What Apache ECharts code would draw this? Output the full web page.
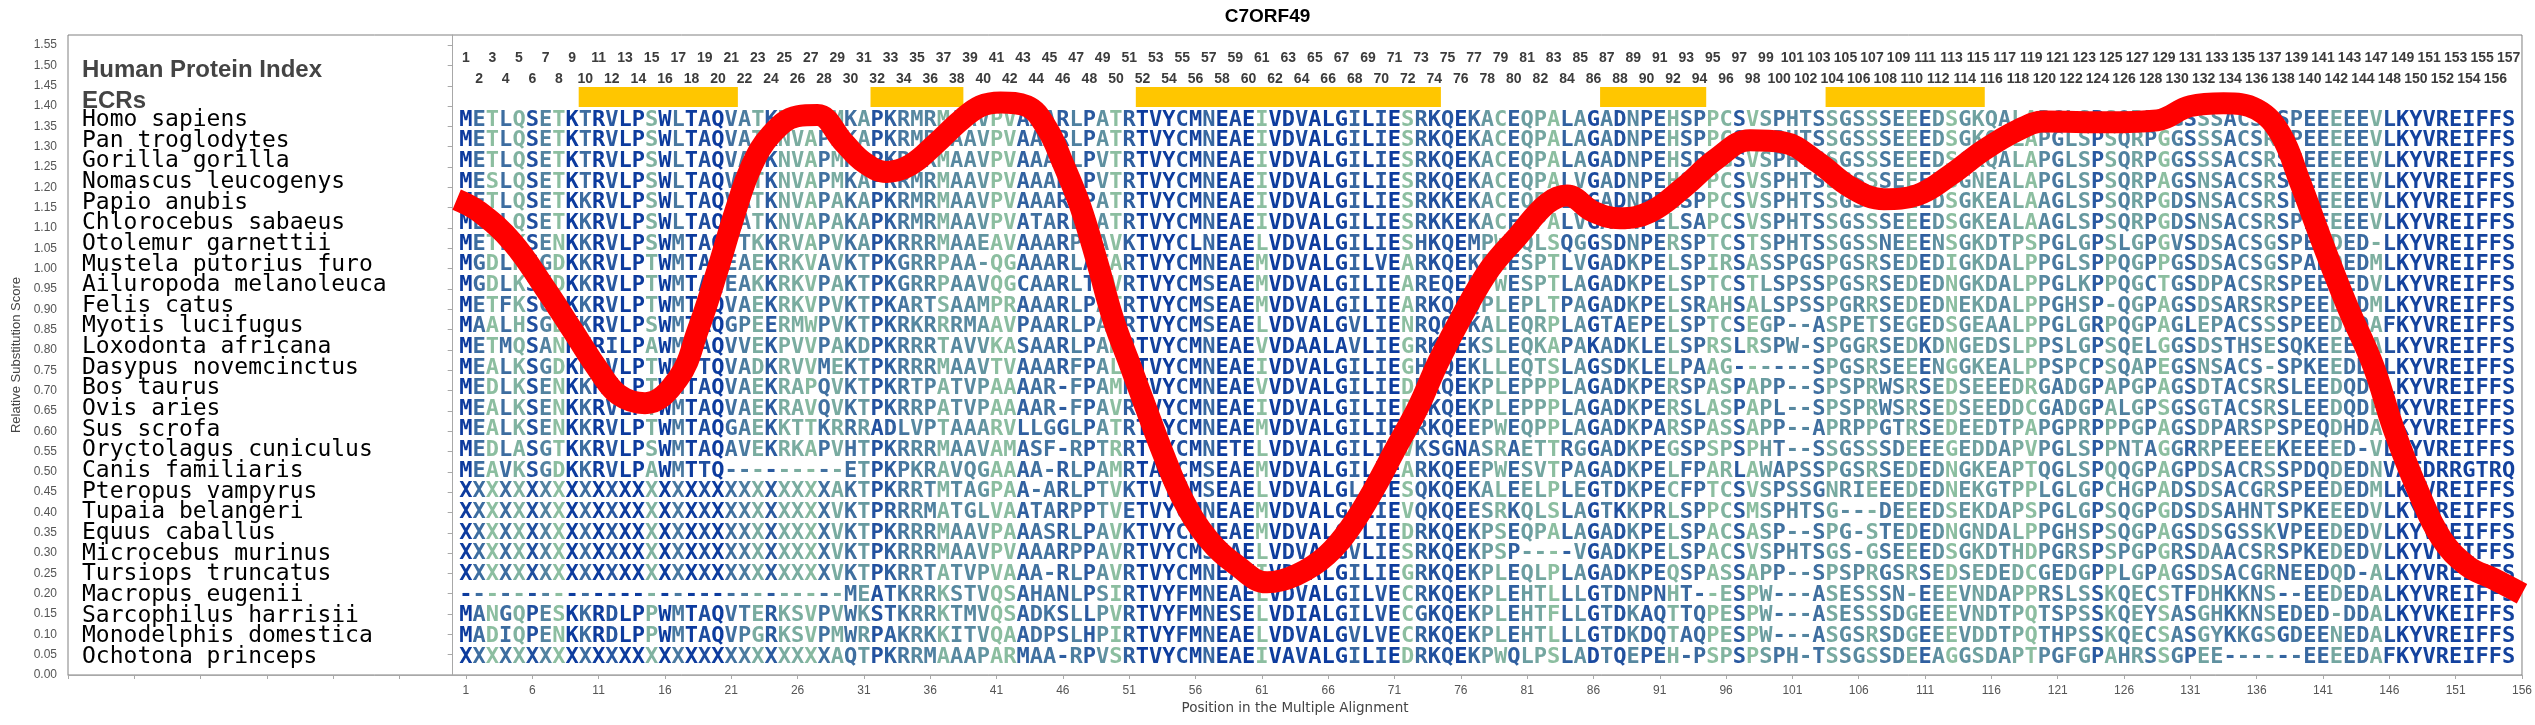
<!DOCTYPE html>
<html>
<head>
<meta charset="utf-8">
<script src="https://cdn.jsdelivr.net/npm/echarts/dist/echarts.min.js"></script>
<style>html,body{margin:0;padding:0;background:#fff}#c{width:2535px;height:725px}</style>
</head>
<body>
<div id="c"></div>
<script>
// ---------------- DATA ----------------
const species = ['Homo sapiens','Pan troglodytes','Gorilla gorilla','Nomascus leucogenys','Papio anubis','Chlorocebus sabaeus','Otolemur garnettii','Mustela putorius furo','Ailuropoda melanoleuca','Felis catus','Myotis lucifugus','Loxodonta africana','Dasypus novemcinctus','Bos taurus','Ovis aries','Sus scrofa','Oryctolagus cuniculus','Canis familiaris','Pteropus vampyrus','Tupaia belangeri','Equus caballus','Microcebus murinus','Tursiops truncatus','Macropus eugenii','Sarcophilus harrisii','Monodelphis domestica','Ochotona princeps'];

const sequenceParts = [
['METLQSETKTRV','LPSWLTAQVATKNVAPMKAPKRMRM','AAVPVAAARLPATRTVYCMNEAEIV','DVALGILIESRKQEKACEQPAL','AGADNPEHSPPCSVSPHTSSGSSSEEEDSGKQALAP','GLSPSQRPGGSSSACSRSPEEEEEVLKYVREIFFS'],
['METLQSETKTRV','LPSWLTAQVATKNVAPMKAPKRMRM','AAVPVAAARLPATRTVYCMNEAEIV','DVALGILIESRKQEKACEQPAL','AGADNPEHSPPCSMSPHTSSGSSSEEEDSGKQALAP','GLSPSQRPGGSSSACSRSPEEEEEVLKYVREIFFS'],
['METLQSETKTRV','LPSWLTAQVATKNVAPMKAPKRMRM','AAVPVAAARLPVTRTVYCMNEAEIV','DVALGILIESRKQEKACEQPAL','AGADNPEHSPPGSVSPHTSSGSSSEEEDSGKQALAP','GLSPSQRPGGSSSACSRSPEEEEEVLKYVREIFFS'],
['MESLQSETKTRV','LPSWLTAQVATKNVAPMKAPKRMRM','AAVPVAAARLPVTRTVYCMNEAEIV','DVALGILIESRKQEKACEQPAL','VGADNPEHSPPCSVSPHTSSGSSSEEEDSGNEALAP','GLSPSQRPAGSNSACSRSPEEEEEVLKYVREIFFS'],
['METLQSETKKRV','LPSWLTAQVATKNVAPAKAPKRMRM','AAVPVAAARPPATRTVYCMNEAEIV','DVALGILIESRKKEKACEQPAL','VGADNPELSPPCSVSPHTSSGSSSEEEDSGKEALAA','GLSPSQRPGDSNSACSRSPEEEEEVLKYVREIFFS'],
['METLQSETKKRV','LPSWLTAQVATKNVAPAKAPKRMRM','AAVPVATARLPATRTVYCMNEAEIV','DVALGILIESRKKEKACEQPAL','VGADNPELSAPCSVSPHTSSGSSSEEEDSGKEALAA','GLSPSQRPGDSNSACSRSPEEEEEVLKYVREIFFS'],
['METLKSENKKRV','LPSWMTAQVTKKRVAPVKAPKRRRM','AAEAVAAARPPAVKTVYCLNEAELV','DVALGILIESHKQEMPWKQLSQ','GGSDNPERSPTCSTSPHTSSGSSNEEENSGKDTPSP','GLGPSLGPGVSDSACSGSPEKDED-LKYVREIFFS'],
['MGDLKSGDKKRV','LPTWMTAQEAEKRKVAVKTPKGRRP','AA-QGAAARLATARTVYCMNEAEMV','DVALGILVEARKQEKPLESPTL','VGADKPELSPIRSASSPGSPGSRSEDEDIGKDALPP','GLSPPQGPPGSDSACSGSPADDEDMLKYVREIFFS'],
['MGDLKSEDKKRV','LPTWMTAQEAKKRKVPAKTPKGRRP','AAVQGCAARLTTVRTVYCMSEAEMV','DVALGILIEAREQEKPWESPTL','AGADKPELSPTCSTLSPSSPGSRSEDEDNGKDALPP','GLKPPQGCTGSDPACSRSPEEDEDVLKYVREIFFS'],
['METFKSGDKKRV','LPTWMTAQVAEKRKVPVKTPKARTS','AAMPRAAARLPATRTVYCMSEAEMV','DVALGILIEARKQEQPLEPLTP','AGADKPELSRAHSALSPSSPGRRSEDEDNEKDALPP','GHSP-QGPAGSDSARSRSPEEDEDMLKYVREIFFS'],
['MAALHSGDKKRV','LPSWMTAQGPEERMWPVKTPKRKRR','RMAAVPAARLPAVRTVYCMSEAELV','DVALGVLIENRQQEKALEQRPL','AGTAEPELSPTCSEGP--ASPETSEGEDSGEAALPP','GLGRPQGPAGLEPACSSSPEEDEDAFKYVREIFFS'],
['METMQSANKNRI','LPAWMTAQVVEKPVVPAKDPKRRRT','AVVKASAARLPAMRTVYCMNEAEVV','DAALAVLIEGRKWEKSLEQKAP','AKADKLELSPRSLRSPW-SPGGRSEDKDNGEDSLPP','SLGPSQELGGSDSTHSESQKEEEDALKYVREIFFS'],
['MEALKSGDKKRV','LPTWMTTQVADKRVVMEKTPKRRRM','AAVTVAAARFPALKTVYCMNEAEIV','DVALGILIEGHKQEKLLEQTSL','AGSDKLELPAAG------SPGSRSEEENGGKEALPP','SPCPSQAPEGSNSACS-SPKEEDDVLKYVREIFFS'],
['MEDLKSENKKRV','LPTWMTAQVAEKRAPQVKTPKRTPA','TVPAAAAR-FPAMRTVYCMNEAEVV','DVALGILIEDRKQEKPLEPPPL','AGADKPERSPASPAPP--SPSPRWSRSEDSEEEDRG','ADGPAPGPAGSDTACSRSLEEDQDELKYVREIFFS'],
['MEALKSENKKRV','LPTWMTAQVAEKRAVQVKTPKRRPA','TVPAAAAR-FPAVRTVYCMNEAEIV','DVALGILIEDRKQEKPLEPPPL','AGADKPERSLASPAPL--SPSPRWSRSEDSEEDDCG','ADGPALGPSGSGTACSRSLEEDQDELKYVREIFFS'],
['MEALKSENKKRV','LPTWMTAQGAEKKTTKRRRADLVPT','AAARVLLGGLPATRTVYCMNEAEMV','DVALGILIEGRKQEEPWEQPPL','AGADKPARSPASSAPP--APRPPGTRSEDEEDTPAP','GPRPPPGPAGSDPARSPSPEQDHDALKYVREIFFS'],
['MEDLASGTKKRV','LPSWMTAQAVEKRKAPVHTPKRRRM','AAVAMASF-RPTRRTVYCMNETELV','DVALGILIEVKSGNASRAETTR','GGADKPEGSPSPSPHT--SSGSSSDEEEGEDDAPVP','GLSPPNTAGGRRPEEEEKEEEED-VLKYVREIFFS'],
['MEAVKSGDKKRV','LPAWMTTQ---------ETPKPKRA','VQGAAAA-RLPAMRTAYCMSEAEMV','DVALGILIEARKQEEPWESVTP','AGADKPELFPARLAWAPSSPGSRSEDEDNGKEAPTQ','GLSPQQGPAGPDSACRSSPDQDEDNVAFDRRGTRQ'],
['XXXXXXXXXXXX','XXXXXXXXXXXXXXXXAKTPKRRTM','TAGPAA-ARLPTVKTVYCMSEAELV','DVALGLLIESQKQEKALEELPL','EGTDKPECFPTCSVSPSSGNRIEEEDEDNEKGTPPL','GLGPCHGPADSDSACGRSPEEDEDMLKYVREIFFS'],
['XXXXXXXXXXXX','XXXXXXXXXXXXXXXXVKTPRRRMA','TGLVAATARPPTVETVYCMNEAEMV','DVALGVLIEVQKQEESRKQLSL','AGTKKPRLSPPCSMSPHTSG---DEEEDSEKDAPSP','GLGPSQGPGDSDSAHNTSPKEEEDVLKYVREIFFS'],
['XXXXXXXXXXXX','XXXXXXXXXXXXXXXXVKTPKRRRM','AAVPAAASRLPAVKTVYCMNEAEMV','DVALGILIEDRKQEKPSEQPAL','AGADKPELSPACSASP--SPG-STEDEDNGNDALPP','GHSPSQGPAGSDSGSSKVPEEDEDVLKYVREIFFS'],
['XXXXXXXXXXXX','XXXXXXXXXXXXXXXXVKTPKRRRM','AAVPVAAARPPAVRTVYCMSEAELV','DVALGVLIESRKQEKPSP----','VGADKPELSPACSVSPHTSGS-GSEEEDSGKDTHDP','GRSPSPGPGRSDAACSRSPKEDEDVLKYVREIFFS'],
['XXXXXXXXXXXX','XXXXXXXXXXXXXXXXVKTPKRRTA','TVPVAAA-RLPAVRTVYCMNEAEIV','DVALGILIEGRKQEKPLEQLPL','AGADKPEQSPASSAPP--SPSPRGSRSEDSEDEDCG','EDGPPLGPAGSDSACGRNEEDQD-ALKYVREIFFS'],
['------------','-----------------MEATKRRK','STVQSAHANLPSIRTVYFMNEAELV','DVALGILVECRKQEKPLEHTLL','LGTDNPNHT--ESPW---ASESSSN-EEEVNDAPPR','SLSSKQECSTFDHKKNS--EEDEDALKYVREIFFS'],
['MANGQPESKKRD','LPPWMTAQVTERKSVPVWKSTKRRK','TMVQSADKSLLPVRTVYFMNESELV','DIALGILVECGKQEKPLEHTFL','LGTDKAQTTQPESPW---ASESSSDGEEEVNDTPQT','SPSSKQEYSASGHKKNSEDED-DDALKYVKEIFFS'],
['MADIQPENKKRD','LPPWMTAQVPGRKSVPMWRPAKRKK','ITVQAADPSLHPIRTVYFMNEAELV','DVALGVLVECRKQEKPLEHTLL','LGTDKDQTAQPESPW---ASGSRSDGEEEVDDTPQT','HPSSKQECSASGYKKGSGDEENEDALKYVREIFFS'],
['XXXXXXXXXXXX','XXXXXXXXXXXXXXXXAQTPKRRMA','AAPARMAA-RPVSRTVYCMNEAEIV','AVALGILIEDRKQEKPWQLPSL','ADTQEPEH-PSPSPSPH-TSSGSSDEEAGGSDAPTP','GFGPAHRSSGPEE------EEEEDAFKYVREIFFS']
];

// human protein index labels shown above the alignment columns
const humanIndexRanges = [[1, 144], [147, 157]];

// ECR blocks (alignment columns)
const ecrStart = [10, 32, 52, 87, 104];
const ecrEnd   = [21, 38, 74, 94, 115];

// relative substitution score
const scoreX = [0.3, 2, 4.5, 7, 9, 11, 12.5, 14.5, 17, 18.5, 20, 21.3, 22.5, 24, 26, 27.5, 29.5, 31, 32.7, 34.5, 36.5, 38.3, 39.8, 41.3, 43.3, 44.8, 46, 47.3, 48.6, 49.8, 51.1, 52.4, 53.5, 55, 56.9, 59.1, 61.4, 63.6, 65.9, 67.8, 69.5, 71.1, 72.8, 74.3, 76.2, 78.2, 80.3, 82.5, 84, 86, 88, 90.3, 92.8, 95.3, 97.8, 100.3, 102.9, 105.4, 107.9, 110.4, 112.9, 115.4, 118, 120, 124.8, 128.5, 131, 133.5, 136, 137.8, 139.3, 141, 142.8, 144.8, 146.3, 148.1, 149.9, 151.9, 153.9, 156];
const scoreY = [1.17, 1.14, 1.065, 0.95, 0.85, 0.75, 0.69, 0.669, 0.73, 0.85, 1.0, 1.14, 1.25, 1.33, 1.375, 1.378, 1.31, 1.262, 1.238, 1.255, 1.31, 1.365, 1.40, 1.409, 1.40, 1.345, 1.26, 1.155, 1.015, 0.875, 0.76, 0.645, 0.55, 0.435, 0.337, 0.27, 0.228, 0.246, 0.295, 0.369, 0.46, 0.558, 0.66, 0.77, 0.89, 1.0, 1.08, 1.16, 1.18, 1.14, 1.124, 1.14, 1.20, 1.271, 1.316, 1.311, 1.262, 1.20, 1.171, 1.181, 1.23, 1.291, 1.341, 1.362, 1.36, 1.365, 1.40, 1.407, 1.392, 1.331, 1.21, 1.06, 0.91, 0.76, 0.608, 0.458, 0.337, 0.268, 0.236, 0.20];

// ---------------- BUILD ----------------
const sequences = sequenceParts.map(p => p.join(''));
const nCols = sequences[0].length;
const humanIndex = [];
humanIndexRanges.forEach(r => { for (let v = r[0]; v <= r[1]; v++) humanIndex.push(v); });

// per-column conservation -> colour
const stops = [[1.0, [12, 59, 158]], [0.85, [40, 88, 160]], [0.7, [72, 120, 160]], [0.55, [104, 154, 160]], [0.4, [140, 190, 160]]];
function consColor(f) {
  if (f >= stops[0][0]) return 'rgb(' + stops[0][1].join(',') + ')';
  for (let i = 0; i < stops.length - 1; i++) {
    const a = stops[i], b = stops[i + 1];
    if (f >= b[0]) {
      const t = (a[0] - f) / (a[0] - b[0]);
      const c = a[1].map((v, k) => Math.round(v + (b[1][k] - v) * t));
      return 'rgb(' + c.join(',') + ')';
    }
  }
  return 'rgb(' + stops[stops.length - 1][1].join(',') + ')';
}
const colColor = [];
for (let c = 0; c < nCols; c++) {
  const cnt = {}; let tot = 0;
  sequences.forEach(s => { const ch = s[c]; if (ch && ch !== 'X' && ch !== '-') { cnt[ch] = (cnt[ch] || 0) + 1; tot++; } });
  let mx = 0; Object.keys(cnt).forEach(k => { if (cnt[k] > mx) mx = cnt[k]; });
  colColor.push(consColor(tot ? mx / tot : 0));
}

const letterData = [], letterChar = [], letterFill = [];
sequences.forEach((s, r) => {
  for (let c = 0; c < s.length; c++) { letterData.push([c + 1, r]); letterChar.push(s[c]); letterFill.push(colColor[c]); }
});

// layout
const GRID = { left: 68, top: 35, right: 12, bottom: 50 };
const CH = 725;
const ROW0 = 120, ROWSTEP = 20.65;
const rowMin = -(ROW0 - GRID.top) / ROWSTEP;
const rowMax = (CH - GRID.bottom - ROW0) / ROWSTEP;
const X_MIN = -29, X_MAX = 156;

const chart = echarts.init(document.getElementById('c'), null, { renderer: 'canvas', width: 2535, height: 725 });

const option = {
  animation: false,
  backgroundColor: '#ffffff',
  title: {
    text: 'C7ORF49', left: 'center', top: 2,
    textStyle: { fontFamily: 'Liberation Sans', fontWeight: 'bold', fontSize: 19, color: '#000' }
  },
  grid: { left: GRID.left, top: GRID.top, right: GRID.right, bottom: GRID.bottom, show: true, borderColor: '#808080', borderWidth: 1, backgroundColor: '#fff' },
  xAxis: [{
    type: 'value', min: X_MIN, max: X_MAX, interval: 5, offset: 5,
    axisLine: { show: true, lineStyle: { color: '#a8a8a8', width: 1 } },
    axisTick: { show: true, length: 4, lineStyle: { color: '#a8a8a8' } },
    splitLine: { show: false },
    axisLabel: { formatter: v => (v >= 1 ? String(v) : ''), color: '#555', fontFamily: 'Liberation Sans', fontSize: 12, margin: 5 },
    name: 'Position in the Multiple Alignment', nameLocation: 'middle', nameGap: 21,
    nameTextStyle: { fontFamily: 'DejaVu Sans', fontSize: 13.5, color: '#444' }
  }],
  yAxis: [{
    type: 'value', min: 0, max: 1.575, interval: 0.05, offset: 4,
    axisLine: { show: true, lineStyle: { color: '#a8a8a8', width: 1 } },
    axisTick: { show: true, length: 5, lineStyle: { color: '#a8a8a8' } },
    splitLine: { show: false },
    axisLabel: { formatter: v => v.toFixed(2), color: '#555', fontFamily: 'Liberation Sans', fontSize: 12, margin: 7, showMaxLabel: false },
    name: 'Relative Substitution Score', nameLocation: 'middle', nameGap: 37,
    nameTextStyle: { fontFamily: 'Liberation Sans', fontSize: 13, color: '#444' }
  }, {
    type: 'value', inverse: true, min: rowMin, max: rowMax, show: false
  }],
  series: [
    { // ECR bars
      type: 'custom', xAxisIndex: 0, yAxisIndex: 1, silent: true, z: 2,
      data: ecrStart.map((s, i) => [s, ecrEnd[i]]),
      renderItem: (params, api) => {
        const p0 = api.coord([api.value(0) - 0.5, -1.6]);
        const p1 = api.coord([api.value(1) + 0.5, -0.63]);
        return { type: 'rect', shape: { x: p0[0], y: p0[1], width: p1[0] - p0[0], height: p1[1] - p0[1] }, style: { fill: '#ffc600' } };
      }
    },
    { // header labels
      type: 'custom', xAxisIndex: 0, yAxisIndex: 1, silent: true, z: 3,
      data: [[X_MIN, -2.4], [X_MIN, -0.9]],
      renderItem: (params, api) => {
        const p = api.coord([api.value(0), api.value(1)]);
        return { type: 'text', x: p[0] + 14, y: p[1], style: { text: params.dataIndex === 0 ? 'Human Protein Index' : 'ECRs', fill: '#444', font: 'bold 24px "Liberation Sans"', align: 'left', verticalAlign: 'middle' } };
      }
    },
    { // human index numbers
      type: 'custom', xAxisIndex: 0, yAxisIndex: 1, silent: true, z: 3,
      data: humanIndex.map((v, i) => [i + 1, (i % 2 === 0) ? -3 : -2]),
      renderItem: (params, api) => {
        const p = api.coord([api.value(0), api.value(1)]);
        return { type: 'text', x: p[0], y: p[1], style: { text: String(humanIndex[params.dataIndex]), fill: '#3c3c3c', font: 'bold 14px "Liberation Sans"', align: 'center', verticalAlign: 'middle' } };
      }
    },
    { // species names
      type: 'custom', xAxisIndex: 0, yAxisIndex: 1, silent: true, z: 3,
      data: species.map((s, i) => [X_MIN, i]),
      renderItem: (params, api) => {
        const p = api.coord([api.value(0), api.value(1)]);
        return { type: 'text', x: p[0] + 14, y: p[1], style: { text: species[params.dataIndex], fill: '#000', font: '23px "DejaVu Sans Mono"', align: 'left', verticalAlign: 'middle' } };
      }
    },
    { // alignment letters
      type: 'custom', xAxisIndex: 0, yAxisIndex: 1, silent: true, z: 4, progressive: 0,
      data: letterData,
      renderItem: (params, api) => {
        const p = api.coord([api.value(0), api.value(1)]);
        const i = params.dataIndex;
        return { type: 'text', x: p[0], y: p[1], style: { text: letterChar[i], fill: letterFill[i], font: 'bold 22px "DejaVu Sans Mono"', align: 'center', verticalAlign: 'middle' } };
      }
    },
    { // substitution score line
      type: 'line', xAxisIndex: 0, yAxisIndex: 0, silent: true, z: 10,
      data: scoreX.map((x, i) => [x, scoreY[i]]),
      smooth: 0.4, symbol: 'none',
      lineStyle: { color: '#ff0000', width: 22, cap: 'butt', join: 'round' }
    }
  ]
};
chart.setOption(option);
</script>
</body>
</html>
